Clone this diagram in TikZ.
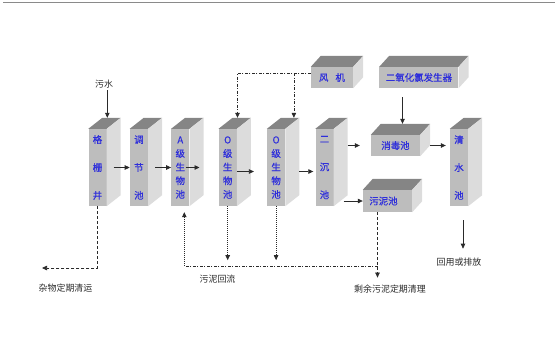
\documentclass[tikz,border=0pt]{standalone}
\usepackage{fontspec}
\newfontfamily\cjk{Noto Sans CJK SC}
\newfontfamily\cjkbox{Noto Sans CJK SC}[FakeBold=0.6]
\usetikzlibrary{arrows.meta,positioning,calc}
\definecolor{Front}{HTML}{BDBDBD}
\definecolor{Side}{HTML}{DCDCDC}
\definecolor{Top}{HTML}{858585}
\definecolor{Label}{HTML}{2E2EDB}
\definecolor{Ink}{HTML}{2A2A2A}
\definecolor{Rule}{HTML}{8A8A8A}
\tikzset{pool/.style={fill=Front,inner sep=0pt,text=Label,align=center,
    font=\cjkbox\fontsize{9.5}{13.7}\selectfont},
  tallpool/.style={pool,minimum width=18bp,minimum height=77bp},
  sparse/.style={font=\cjkbox\fontsize{9.5}{28}\selectfont},
  widepool/.style={pool,minimum height=21bp},
  note/.style={font=\cjk\fontsize{9}{11}\selectfont,text=Ink,inner sep=2pt},
  flow/.style={-{Triangle[length=5bp,width=4.5bp]},draw=Ink,line width=0.7bp},
  dashflow/.style={flow,dash pattern=on 3bp off 2bp},
  dotflow/.style={flow,dash pattern=on 1bp off 1bp},
  dashdotflow/.style={flow,dash pattern=on 3bp off 1.5bp on 1bp off 1.5bp},
  dashdotline/.style={draw=Ink,line width=0.7bp,dash pattern=on 3bp off 1.5bp on 1bp off 1.5bp}}

\begin{document}
\begin{tikzpicture}[x=1bp,y=-1bp]
  \useasboundingbox (0,0) rectangle (558,337);
  \draw[Rule,line width=1.2bp] (3,2.5) -- (555,2.5);
  % tall pools
  \node[tallpool,sparse] (gs) at (97.5,167.5) {格\\栅\\井};
  \node[tallpool,sparse,right=23bp of gs] (tj) {调\\节\\池};
  \node[tallpool,right=23bp of tj] (ab) {A\\级\\生\\物\\池};
  \node[tallpool,right=29bp of ab] (o1) {O\\级\\生\\物\\池};
  \node[tallpool,right=30bp of o1] (o2) {O\\级\\生\\物\\池};
  \node[tallpool,sparse,right=30bp of o2] (ec) {二\\沉\\池};
  \node[tallpool,sparse] (qs) at (459,167.5) {清\\水\\池};
  % flat boxes
  \node[widepool,minimum width=42bp] (fj) at (332,77.5) {风\hspace{7bp}机};
  \node[widepool,minimum width=79bp,right=26bp of fj] (clo) {二氧化氯发生器};
  \node[widepool,minimum width=49bp] (xd) at (395.5,145.5) {消毒池};
  \node[widepool,minimum width=49bp,minimum height=22bp] (wn) at (387.5,201) {污泥池\hspace{8bp}};
  % top and side faces
  \foreach \n/\dep in {gs/14,tj/14,ab/14,o1/14,o2/14,ec/14,qs/14,fj/10,clo/10,xd/10,wn/10}{
    \fill[Top] (\n.north west) -- ++(\dep,-11) -- ([shift={(\dep,-11)}]\n.north east) -- (\n.north east) -- cycle;
    \fill[Side] (\n.north east) -- ++(\dep,-11) -- ([shift={(\dep,-11)}]\n.south east) -- (\n.south east) -- cycle;
    \coordinate (\n-top) at ([shift={(0.7*\dep,-11)}]\n.north);
  }
  % labels
  \node[note] (ws) at (104,84) {污水};
  \node[note] (zq) at (65.5,288) {杂物定期清运};
  \node[note] (wl) at (217.5,279) {污泥回流};
  \node[note] (sy) at (390,289) {剩余污泥定期清理};
  \node[note] (hy) at (459,262) {回用或排放};
  % main flow
  \draw[flow] (ws.south -| gs-top) -- (gs-top);
  \draw[flow] ([xshift=7bp]gs.east) -- (tj.west);
  \draw[flow] ([xshift=7bp]tj.east) -- (ab.west);
  \draw[flow] ([xshift=-4bp]ab.east) -- ([xshift=-19bp]o1.west);
  \draw[flow] ([shift={(0,4)}]o1.east) -- ([shift={(-13,4)}]o2.west);
  \draw[flow] ([shift={(14,4)}]o2.east) -- ([shift={(-2,4)}]ec.west);
  \draw[flow] ([xshift=14bp]ec.east |- xd.west) -- ([xshift=-11bp]xd.west);
  \draw[flow] ([xshift=10bp]ec.east |- wn.west) -- (wn.west);
  \draw[flow] ([xshift=10bp]xd.east) -- ([xshift=-4bp]qs.west |- xd.east);
  \draw[flow] ([yshift=-9bp]clo.south -| xd-top) -- (xd-top);
  \draw[flow] ([shift={(4,14)}]qs.south) -- ([shift={(4,-7)}]hy.north);
  % air
  \coordinate (fan) at ([yshift=4.5bp]fj.west);
  \coordinate (o2in) at ([xshift=8bp]o2-top);
  \draw[dashdotflow] (fan) -| (o1-top);
  \draw[dashdotflow] (fan -| o2in) -- (o2in);
  % sludge
  \coordinate (zqend) at (42,268);
  \draw[dashflow] (gs.south) |- (zqend);
  \coordinate (ret) at ([shift={(4,60)}]ab.south);
  \coordinate (wnout) at ([xshift=-10bp]wn.south);
  \draw[dotflow] (o1.south) -- ($(o1.south |- ret)+(0,-6)$);
  \draw[dotflow] (o2.south) -- ($(o2.south |- ret)+(0,-6)$);
  \draw[dashdotline] (wnout |- ret) -- (ret);
  \draw[dotflow] (ret) -- ([shift={(4,6)}]ab.south);
  \draw[dashflow] (wnout) -- ($(wnout |- sy.north)+(0,-5)$);
\end{tikzpicture}
\end{document}
